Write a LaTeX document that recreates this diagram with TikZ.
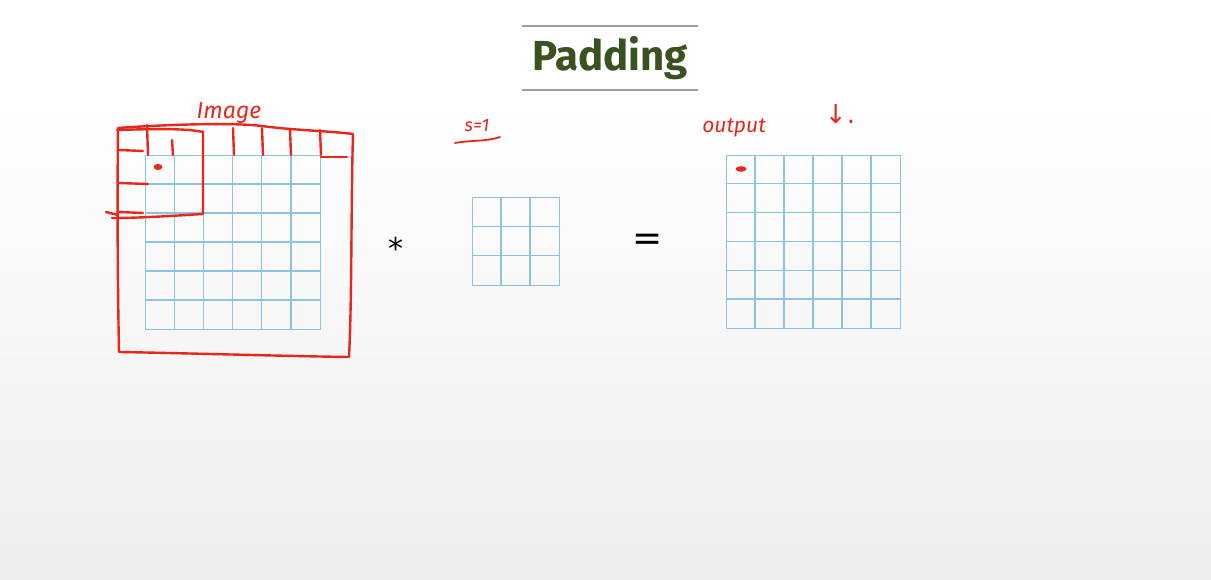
\documentclass[tikz,border=0pt]{standalone}
\usepackage{fontspec}
\setmainfont{DejaVu Sans}
\newfontfamily\titlefont{Fira Sans}
\newfontfamily\handfont{Fira Sans}
\usetikzlibrary{positioning}
\definecolor{cellblue}{HTML}{8CC3DE}
\definecolor{pen}{HTML}{E8261C}
\definecolor{titlegreen}{HTML}{3A5220}
\tikzset{cell/.style={draw=cellblue,line width=1.3pt},gridbox/.style={cell,inner sep=0,anchor=north west},ink/.style={draw=pen,line width=2.4pt,line cap=round,line join=round},note/.style={text=pen,inner sep=0,font=\handfont\itshape},rule/.style={draw=gray!75,line width=1.1pt}}
\begin{document}
\begin{tikzpicture}[x=1pt,y=-1pt]
\useasboundingbox (0,0) rectangle (1211,580);
\shade[top color=white,bottom color=black!7] (0,100) rectangle (1211,580);
% title
\node[font=\titlefont\bfseries\fontsize{42}{46}\selectfont,text=titlegreen] (title) at (610,58) {Padding};
\coordinate (rtl) at (522,26);\coordinate (rtr) at (698,26);\coordinate (rbl) at (522,90);\coordinate (rbr) at (698,90);
\draw[rule] (rtl) -- (rtr);\draw[rule] (rbl) -- (rbr);
% grids
\node[gridbox,minimum width=175pt,minimum height=174pt] (img) at (145,155) {};
\node[gridbox,minimum width=87pt,minimum height=88pt] (ker) at (472,197) {};
\node[gridbox,minimum width=174pt,minimum height=173pt] (out) at (726,155) {};
\foreach \k in {1,...,5}{\draw[cell] ([xshift=\k*29.17pt]img.north west) -- ([xshift=\k*29.17pt]img.south west);\draw[cell] ([yshift=-\k*29pt]img.north west) -- ([yshift=-\k*29pt]img.north east);
\draw[cell] ([xshift=\k*29pt]out.north west) -- ([xshift=\k*29pt]out.south west);\draw[cell] ([yshift=-\k*28.83pt]out.north west) -- ([yshift=-\k*28.83pt]out.north east);}
\foreach \k in {1,2}{\draw[cell] ([xshift=\k*29pt]ker.north west) -- ([xshift=\k*29pt]ker.south west);\draw[cell] ([yshift=-\k*29.33pt]ker.north west) -- ([yshift=-\k*29.33pt]ker.north east);}
\node[font=\fontsize{30}{30}\selectfont] (conv) at (396,248) {*};
\node[font=\fontsize{36}{36}\selectfont] (eq) at (648,242) {=};
% red pen notes
\draw[ink] (118,128) .. controls (160,125) and (230,122) .. (262,126) .. controls (290,130) and (330,131) .. (353,134) .. controls (351,200) and (352,300) .. (349,357) .. controls (280,356) and (180,353) .. (119,352) .. controls (118,300) and (117,220) .. (118,128);
\draw[ink] (117,130) .. controls (150,129) and (185,128) .. (203,132) -- (203,214) .. controls (170,216) and (140,218) .. (112,218);
\draw[ink] (106,212) -- (118,215);
\foreach \x/\a in {147/125,172/140,233/128,262/128,290/129,320/130}{\draw[ink] (\x,\a) -- (\x+1,155);}
\draw[ink] (321,157) -- (347,157);
\foreach \y/\b in {150/143,183/148,212/143}{\draw[ink] (119,\y) -- (\b,\y+1);}
\fill[pen] (158,167) ellipse (4.5 and 3);
\fill[pen] (741,169) ellipse (5.5 and 2.8);
\node[note,font=\handfont\itshape\fontsize{23}{23}\selectfont] (imglabel) at (229,113) {Image};
\node[note,font=\handfont\itshape\fontsize{18}{18}\selectfont] (stride) at (477,126) {s=1};
\coordinate (ula) at (455,143);\coordinate (ulb) at (500,137);
\draw[ink,line width=1.8pt] (ula) .. controls (470,140) and (485,142) .. (ulb);
\node[note,font=\handfont\itshape\fontsize{21}{21}\selectfont] (outlabel) at (734,128) {output};
\node[note,font=\fontsize{26}{26}\selectfont] (shrink) at (840,114) {↓.};
\end{tikzpicture}
\end{document}
